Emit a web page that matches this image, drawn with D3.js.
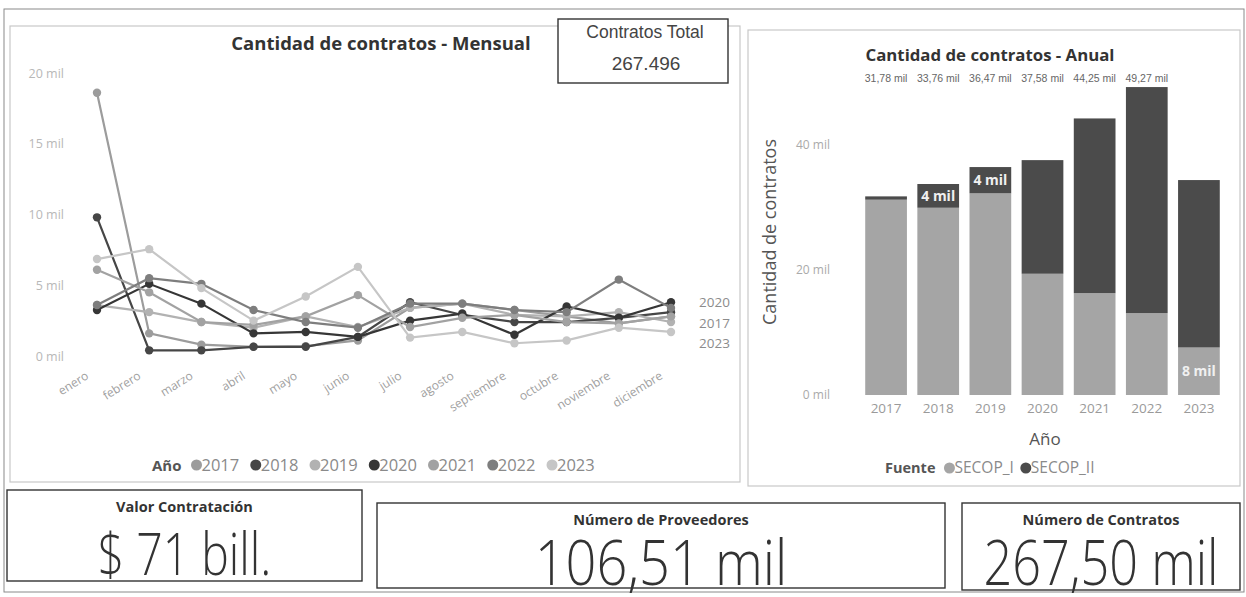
<!DOCTYPE html>
<html>
<head>
<meta charset="utf-8">
<script src="https://cdn.jsdelivr.net/npm/d3@7"></script>
<style>
body { margin: 0; background: #fff; }
svg { display: block; font-family: "Open Sans", sans-serif; }
</style>
</head>
<body>
<svg id="tablero" width="1246" height="597"></svg>
<script>
var meses = ["enero", "febrero", "marzo", "abril", "mayo", "junio", "julio", "agosto", "septiembre", "octubre", "noviembre", "diciembre"];
var anios = ["2017", "2018", "2019", "2020", "2021", "2022", "2023"];
var m2017 = [18.6, 1.6, 0.8, 0.65, 0.7, 1.1, 3.4, 3.7, 3.25, 2.8, 2.3, 2.8];
var m2018 = [9.8, 0.4, 0.4, 0.65, 0.65, 1.35, 3.8, 2.9, 2.4, 2.4, 2.7, 3.1];
var m2019 = [3.6, 3.1, 2.4, 2.0, 2.8, 2.05, 3.4, 3.7, 2.9, 2.8, 3.1, 2.4];
var m2020 = [3.25, 5.1, 3.7, 1.6, 1.7, 1.35, 2.5, 3.0, 1.5, 3.5, 2.7, 3.8];
var m2021 = [6.1, 4.5, 2.4, 2.2, 2.8, 4.3, 2.05, 2.7, 2.9, 2.4, 2.3, 2.8];
var m2022 = [3.6, 5.5, 5.1, 3.25, 2.4, 2.0, 3.7, 3.7, 3.25, 3.1, 5.4, 3.4];
var m2023 = [6.85, 7.55, 4.8, 2.5, 4.2, 6.3, 1.3, 1.7, 0.9, 1.1, 2.0, 1.7];
var coloresAnio = ["#9c9c9c", "#464646", "#b2b2b2", "#363636", "#a2a2a2", "#7e7e7e", "#c6c6c6"];
var etiquetasFin = ["2020", "2017", "2023"];

var fuentes = ["SECOP_I", "SECOP_II"];
var secopI = [31.25, 29.96, 32.27, 19.40, 16.30, 13.10, 7.60];
var secopII = [0.53, 3.80, 4.20, 18.18, 27.95, 36.17, 26.79];
var coloresFuente = ["#a5a5a5", "#4b4b4b"];
var aniosConTotal = ["2017", "2018", "2019", "2020", "2021", "2022"];

var totalContratos = 267496;
var kpiTitulos = ["Valor Contratación", "Número de Proveedores", "Número de Contratos"];
var kpiValores = ["$ 71 bill.", "106,51 mil", "267,50 mil"];

var es = d3.formatLocale({decimal: ",", thousands: ".", grouping: [3], currency: ["$", ""]});
var fmtMil = es.format(",.2f");
var fmtEntero = es.format(",d");

var svg = d3.select("#tablero");

// marco general escaneado
svg.append("rect").attr("x", 4).attr("y", 9).attr("width", 1240).attr("height", 583)
  .attr("fill", "none").attr("stroke", "#8a8a8a").attr("stroke-width", 1);

// paneles
svg.append("rect").attr("x", 10).attr("y", 26).attr("width", 730).attr("height", 456)
  .attr("fill", "#fff").attr("stroke", "#c8c8c8").attr("stroke-width", 1.2);
svg.append("rect").attr("x", 748).attr("y", 30).attr("width", 492).attr("height", 456)
  .attr("fill", "#fff").attr("stroke", "#c8c8c8").attr("stroke-width", 1.2);

// ---------- Mensual ----------
var series = anios.map(function (a, i) {
  return {anio: a, valores: [m2017, m2018, m2019, m2020, m2021, m2022, m2023][i], color: coloresAnio[i]};
});

var xM = d3.scalePoint().domain(meses).range([97, 671]);
var yM = d3.scaleLinear().domain([0, 20]).range([356, 73]);

svg.append("text").attr("x", 381).attr("y", 50).attr("text-anchor", "middle")
  .attr("font-weight", "bold").attr("font-size", 18.5).attr("fill", "#333")
  .text("Cantidad de contratos - Mensual");

var yAxisM = svg.append("g").attr("transform", "translate(64,0)")
  .call(d3.axisLeft(yM).tickValues([0, 5, 10, 15, 20]).tickSize(0).tickPadding(0)
    .tickFormat(function (d) { return d + " mil"; }));
yAxisM.select(".domain").remove();
yAxisM.selectAll("text").attr("font-family", "Open Sans").attr("font-size", 12.5).attr("fill", "#b8b8b8");

var xAxisM = svg.append("g").attr("transform", "translate(0,378)")
  .call(d3.axisBottom(xM).tickSize(0).tickPadding(0));
xAxisM.select(".domain").remove();
xAxisM.selectAll("text").attr("font-family", "Open Sans").attr("font-size", 12).attr("fill", "#a0a0a0")
  .attr("text-anchor", "end").attr("dy", 0)
  .attr("transform", "translate(-8,0) rotate(-32)");

var linea = d3.line().x(function (d, i) { return xM(meses[i]); }).y(function (d) { return yM(d); });

var gS = svg.append("g").selectAll("g").data(series).enter().append("g");
gS.append("path").attr("d", function (d) { return linea(d.valores); })
  .attr("fill", "none").attr("stroke", function (d) { return d.color; }).attr("stroke-width", 2.2);
gS.selectAll("circle").data(function (d) { return d.valores.map(function (v, i) { return {v: v, i: i, c: d.color}; }); })
  .enter().append("circle")
  .attr("cx", function (d) { return xM(meses[d.i]); })
  .attr("cy", function (d) { return yM(d.v); })
  .attr("r", 4.2).attr("fill", function (d) { return d.c; });

// etiquetas al final de linea, separadas si chocan
var fin = series.filter(function (s) { return etiquetasFin.indexOf(s.anio) >= 0; })
  .map(function (s) { return {anio: s.anio, y: yM(s.valores[11])}; })
  .sort(function (a, b) { return a.y - b.y; });
for (var k = 1; k < fin.length; k++) {
  if (fin[k].y - fin[k - 1].y < 20.5) fin[k].y = fin[k - 1].y + 20.5;
}
svg.append("g").selectAll("text").data(fin).enter().append("text")
  .attr("x", 699).attr("y", function (d) { return d.y + 5; })
  .attr("font-size", 13.5).attr("fill", "#8c8c8c").text(function (d) { return d.anio; });

// leyenda Año
var leyM = svg.append("g").attr("transform", "translate(152,471)");
var tAnio = leyM.append("text").attr("x", 0).attr("y", 0).attr("font-weight", "bold")
  .attr("font-size", 15).attr("fill", "#555").text("Año");
var lx = tAnio.node().getComputedTextLength() + 15;
series.forEach(function (s) {
  leyM.append("circle").attr("cx", lx).attr("cy", -6).attr("r", 5.5).attr("fill", s.color);
  var t = leyM.append("text").attr("x", lx + 5).attr("y", 0).attr("font-size", 16.5)
    .attr("fill", "#8a8a8a").text(s.anio);
  lx += 5 + t.node().getComputedTextLength() + 16.5;
});

// tarjeta Contratos Total
svg.append("rect").attr("x", 558).attr("y", 19).attr("width", 170).attr("height", 64)
  .attr("fill", "#fff").attr("stroke", "#333").attr("stroke-width", 1.4);
svg.append("text").attr("x", 645).attr("y", 38).attr("text-anchor", "middle")
  .attr("font-family", "Liberation Sans").attr("font-size", 17.5).attr("fill", "#444")
  .text("Contratos Total");
svg.append("text").attr("x", 646).attr("y", 70).attr("text-anchor", "middle")
  .attr("font-family", "Liberation Sans").attr("font-size", 19).attr("fill", "#444")
  .text(fmtEntero(totalContratos));

// ---------- Anual ----------
var pilas = anios.map(function (a, i) { return {anio: a, SECOP_I: secopI[i], SECOP_II: secopII[i]}; });
var apilado = d3.stack().keys(fuentes)(pilas);

var xA = d3.scaleBand().domain(anios).range([860, 1225]).paddingInner(0.2).paddingOuter(0.1);
var yA = d3.scaleLinear().domain([0, 40]).range([395, 145]);

svg.append("text").attr("x", 990).attr("y", 61).attr("text-anchor", "middle")
  .attr("font-weight", "bold").attr("font-size", 16.8).attr("fill", "#333")
  .text("Cantidad de contratos - Anual");

var yAxisA = svg.append("g").attr("transform", "translate(830,0)")
  .call(d3.axisLeft(yA).tickValues([0, 20, 40]).tickSize(0).tickPadding(0)
    .tickFormat(function (d) { return d + " mil"; }));
yAxisA.select(".domain").remove();
yAxisA.selectAll("text").attr("font-family", "Open Sans").attr("font-size", 12).attr("fill", "#aaa");

var xAxisA = svg.append("g").attr("transform", "translate(0,402)")
  .call(d3.axisBottom(xA).tickSize(0).tickPadding(1));
xAxisA.select(".domain").remove();
xAxisA.selectAll("text").attr("font-family", "Open Sans").attr("font-size", 13.5).attr("fill", "#9a9a9a");

svg.append("text").attr("transform", "translate(776,232) rotate(-90)").attr("text-anchor", "middle")
  .attr("font-size", 18).attr("fill", "#555").text("Cantidad de contratos");
svg.append("text").attr("x", 1045).attr("y", 445).attr("text-anchor", "middle")
  .attr("font-size", 17).attr("fill", "#555").text("Año");

svg.append("g").selectAll("g").data(apilado).enter().append("g")
  .attr("fill", function (d, i) { return coloresFuente[i]; })
  .selectAll("rect").data(function (d) { return d; }).enter().append("rect")
  .attr("x", function (d) { return xA(d.data.anio); })
  .attr("width", xA.bandwidth())
  .attr("y", function (d) { return yA(d[1]); })
  .attr("height", function (d) { return yA(d[0]) - yA(d[1]); });

// etiquetas de segmento visibles
var segLabels = [];
apilado.forEach(function (capa) {
  capa.forEach(function (d) {
    var v = d[1] - d[0];
    if (yA(d[0]) - yA(d[1]) > 20 && (v < 5 || v < 10 && capa.key == "SECOP_I")) segLabels.push({d: d, v: v});
  });
});
svg.append("g").selectAll("text").data(segLabels).enter().append("text")
  .attr("x", function (s) { return xA(s.d.data.anio) + xA.bandwidth() / 2; })
  .attr("y", function (s) { return (yA(s.d[0]) + yA(s.d[1])) / 2 + 5; })
  .attr("text-anchor", "middle").attr("font-size", 14).attr("font-weight", "bold").attr("fill", "#f0f0f0")
  .text(function (s) { return Math.round(s.v) + " mil"; });

// totales arriba
svg.append("g").selectAll("text").data(aniosConTotal).enter().append("text")
  .attr("x", function (a) { return xA(a) + xA.bandwidth() / 2; })
  .attr("y", 82).attr("text-anchor", "middle")
  .attr("font-family", "Liberation Sans").attr("font-size", 10.5).attr("fill", "#666")
  .text(function (a) { var i = anios.indexOf(a); return fmtMil(secopI[i] + secopII[i]) + " mil"; });

// leyenda Fuente
var leyA = svg.append("g").attr("transform", "translate(885,473)");
var tF = leyA.append("text").attr("x", 0).attr("y", 0).attr("font-weight", "bold")
  .attr("font-size", 14.5).attr("fill", "#555").text("Fuente");
var fx = tF.node().getComputedTextLength() + 14;
fuentes.forEach(function (f, i) {
  leyA.append("circle").attr("cx", fx).attr("cy", -5).attr("r", 5.5).attr("fill", coloresFuente[i]);
  var t = leyA.append("text").attr("x", fx + 5).attr("y", 0).attr("font-size", 15.5)
    .attr("fill", "#8a8a8a").text(f);
  fx += 5 + t.node().getComputedTextLength() + 12;
});

// ---------- tarjetas inferiores ----------
var cajas = [
  {x: 7, y: 490, w: 355, h: 91, fs: 58, sx: 0.8, base: 575},
  {x: 377, y: 503, w: 568, h: 85, fs: 63, sx: 0.86, base: 585},
  {x: 962, y: 503, w: 278, h: 87, fs: 63, sx: 0.8, base: 585}
];
cajas.forEach(function (c, i) {
  svg.append("rect").attr("x", c.x).attr("y", c.y).attr("width", c.w).attr("height", c.h)
    .attr("fill", "#fff").attr("stroke", "#333").attr("stroke-width", 1.4);
  svg.append("text").attr("x", c.x + c.w / 2).attr("y", c.y + 22).attr("text-anchor", "middle")
    .attr("font-weight", "bold").attr("font-size", 14.5).attr("fill", "#333").text(kpiTitulos[i]);
  svg.append("text").attr("transform", "translate(" + (c.x + c.w / 2) + "," + c.base + ") scale(" + c.sx + ",1)")
    .attr("text-anchor", "middle")
    .attr("font-weight", 300).attr("font-size", c.fs).attr("fill", "#333").text(kpiValores[i]);
});
</script>
</body>
</html>
